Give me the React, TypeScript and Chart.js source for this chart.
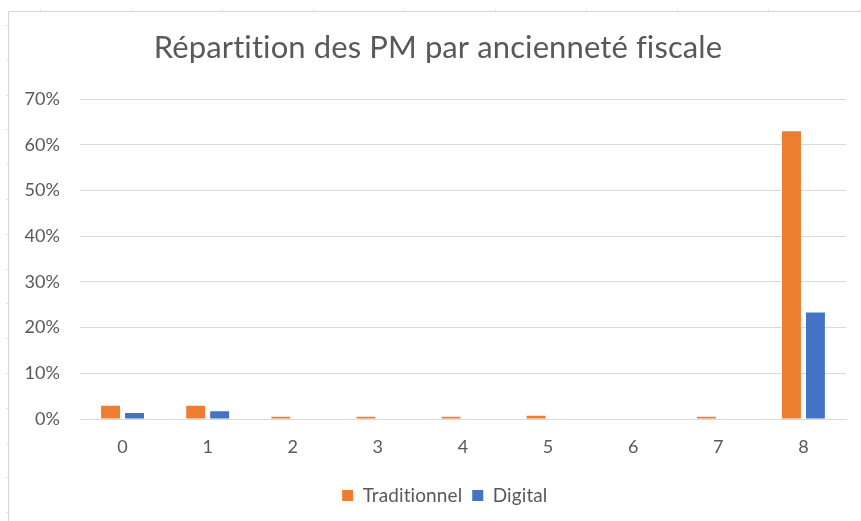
import React, { useEffect, useRef } from "react";
import { Chart, registerables } from "chart.js";

Chart.register(...registerables);

const TITLE = "Répartition des PM par ancienneté fiscale";
const categories = ["0", "1", "2", "3", "4", "5", "6", "7", "8"];
const traditionnel = [2.9, 2.9, 0.5, 0.5, 0.5, 0.7, 0, 0.5, 63];
const digital = [1.3, 1.7, 0, 0, 0, 0, 0, 0, 23.3];
const yTicks = [0, 10, 20, 30, 40, 50, 60, 70];

const TEXT = "#595959";
const GRID = "#d9d9d9";
const FONT = "Lato, 'Open Sans', sans-serif";

const framePlugin = {
  id: "frame",
  afterLayout(chart: any) {
    if (chart.titleBlock) chart.titleBlock.left = 30;
    if (chart.legend) chart.legend.left = 42;
  },
  beforeDraw(chart: any) {
    const ctx = chart.ctx;
    ctx.save();
    ctx.strokeStyle = "#d4d4d4";
    ctx.lineWidth = 1;
    ctx.beginPath();
    ctx.moveTo(8.5, 11.5);
    ctx.lineTo(chart.width, 11.5);
    ctx.moveTo(8.5, 11.5);
    ctx.lineTo(8.5, chart.height);
    ctx.stroke();
    ctx.strokeStyle = "#e4e4e4";
    ctx.beginPath();
    for (let y = 25; y < chart.height; y += 34.8) {
      ctx.moveTo(6, Math.round(y) + 0.5);
      ctx.lineTo(8, Math.round(y) + 0.5);
    }
    for (let x = 40; x < chart.width; x += 91) {
      ctx.moveTo(Math.round(x) + 0.5, 9);
      ctx.lineTo(Math.round(x) + 0.5, 11);
    }
    ctx.stroke();
    ctx.restore();
    if ("letterSpacing" in ctx) ctx.letterSpacing = "0.1px";
  },
};

export default function App() {
  const ref = useRef<HTMLCanvasElement | null>(null);
  useEffect(() => {
    if (!ref.current) return;
    const chart = new Chart(ref.current, {
      type: "bar",
      data: {
        labels: categories,
        datasets: [
          {
            label: "Traditionnel",
            data: traditionnel,
            backgroundColor: "#ED7D31",
            borderWidth: 0,
            categoryPercentage: 0.563,
            barPercentage: 0.79,
          },
          {
            label: "Digital",
            data: digital,
            backgroundColor: "#4472C4",
            borderWidth: 0,
            categoryPercentage: 0.563,
            barPercentage: 0.79,
          },
        ],
      },
      options: {
        responsive: false,
        animation: false,
        devicePixelRatio: 1,
        layout: { padding: { left: 0, right: 15, top: 0, bottom: 6 } },
        plugins: {
          title: {
            display: true,
            text: TITLE,
            color: TEXT,
            font: { family: FONT, size: 31, weight: "normal" },
            padding: { top: 29, bottom: 33 },
          },
          legend: {
            position: "bottom",
            labels: {
              color: TEXT,
              font: { family: FONT, size: 19 },
              boxWidth: 11,
              boxHeight: 11,
              padding: 10,
            },
          },
          tooltip: { enabled: false },
        },
        scales: {
          x: {
            grid: { display: false, drawTicks: false },
            border: { display: true, color: GRID, width: 1 },
            ticks: { color: TEXT, font: { family: FONT, size: 18 }, padding: 17 },
            afterFit(scale: any) {
              scale.height = 57;
            },
          },
          y: {
            min: 0,
            max: 70,
            afterBuildTicks(scale: any) {
              scale.ticks = yTicks.map((v) => ({ value: v }));
            },
            grid: { color: GRID, drawTicks: false },
            border: { display: false },
            ticks: {
              color: TEXT,
              font: { family: FONT, size: 18 },
              padding: 20,
              callback: (v: any) => v + "%",
            },
            afterFit(scale: any) {
              scale.width = 80;
            },
          },
        },
      },
      plugins: [framePlugin],
    });
    return () => chart.destroy();
  }, []);
  return (
    <div style={{ position: "absolute", left: 0, top: 0, width: 861, height: 521, background: "#fff" }}>
      <canvas ref={ref} width={861} height={521} style={{ display: "block" }} />
    </div>
  );
}
